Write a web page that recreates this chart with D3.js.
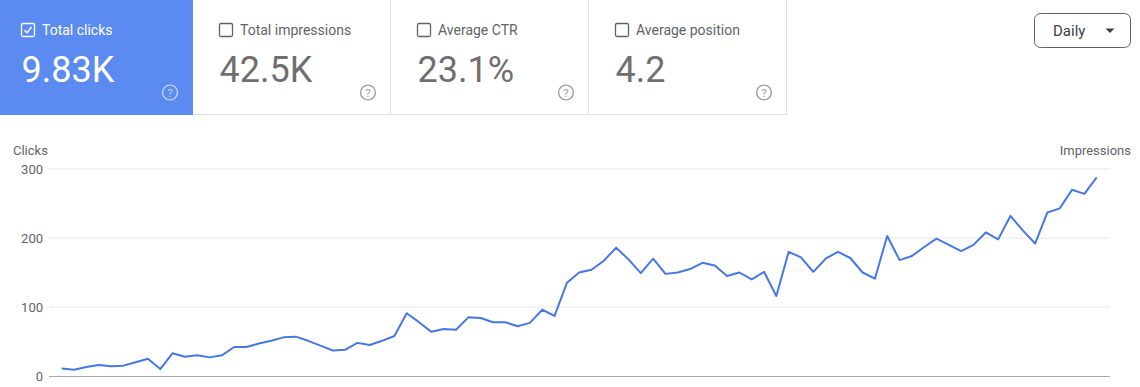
<!DOCTYPE html>
<html>
<head>
<meta charset="utf-8">
<script src="https://cdn.jsdelivr.net/npm/d3@7"></script>
<style>
  html, body { margin: 0; padding: 0; background: #fff; }
  svg { display: block; font-family: Roboto, "Noto Sans", sans-serif; }
</style>
</head>
<body>
<svg id="chart" width="1140" height="387"></svg>
<script>
// ---- data ----
const metricLabels = ["Total clicks", "Total impressions", "Average CTR", "Average position"];
const metricValues = ["9.83K", "42.5K", "23.1%", "4.2"];
const metricSelected = [true, false, false, false];
const clicks = [
  11, 9, 13, 16, 14, 15, 20, 25, 10, 33,
  28, 30, 27, 30, 42, 42, 47, 51, 56, 57,
  51, 44, 37, 38, 48, 45, 51, 58, 91, 78,
  64, 68, 67, 85, 84, 78, 78, 72, 77, 96,
  87, 135, 150, 154, 167, 186, 169, 149, 170, 148,
  150, 155, 164, 160, 145, 150, 140, 151, 116, 180,
  172, 151, 170, 180, 171, 150, 141, 203, 168, 174,
  187, 199, 190, 181, 190, 208, 198, 232, 211, 192,
  237, 243, 270, 264, 288
];
const yTicks = [0, 100, 200, 300];
const leftAxisTitle = "Clicks";
const rightAxisTitle = "Impressions";
const periodLabel = "Daily";

// ---- drawing ----
const svg = d3.select("#chart");
const blue = "#5b8af0";
const lineBlue = "#4677e6";

// metric cards
const cardW = 198, cardH = 115, cardX0 = -5;
const cards = svg.append("g");
metricLabels.forEach((lab, i) => {
  const x0 = cardX0 + i * cardW;
  const sel = metricSelected[i];
  const g = cards.append("g");
  if (sel) {
    g.append("rect").attr("x", 0).attr("y", 0).attr("width", x0 + cardW).attr("height", cardH).attr("fill", blue);
  } else {
    g.append("line").attr("x1", x0).attr("x2", x0 + cardW).attr("y1", cardH - 0.5).attr("y2", cardH - 0.5)
      .attr("stroke", "#e0e0e0").attr("stroke-width", 1);
    g.append("line").attr("x1", x0 + cardW - 0.5).attr("x2", x0 + cardW - 0.5).attr("y1", 0).attr("y2", cardH)
      .attr("stroke", "#e0e0e0").attr("stroke-width", 1);
  }
  const fg = sel ? "#ffffff" : "#5f6368";
  // checkbox
  g.append("rect").attr("x", x0 + 26.5).attr("y", 23.5).attr("width", 13).attr("height", 13).attr("rx", 1.5)
    .attr("fill", "none").attr("stroke", sel ? "#fff" : "#5f6368").attr("stroke-width", 1.3);
  if (sel) {
    g.append("path").attr("d", `M${x0 + 29.5},${30.2} L${x0 + 32},${32.8} L${x0 + 36.6},${27}`)
      .attr("fill", "none").attr("stroke", "#fff").attr("stroke-width", 1.4);
  }
  g.append("text").attr("x", x0 + 47).attr("y", 34.5).attr("font-size", 14).attr("fill", fg).text(lab);
  g.append("text").attr("x", x0 + 26.5).attr("y", 81.5).attr("font-size", 36)
    .attr("fill", sel ? "#fff" : "#6f6f6f").text(metricValues[i]);
  // help icon
  const hc = sel ? "rgba(255,255,255,0.6)" : "#9e9e9e";
  g.append("circle").attr("cx", x0 + 175).attr("cy", 92.5).attr("r", 7.4).attr("fill", "none")
    .attr("stroke", hc).attr("stroke-width", 1.4);
  g.append("text").attr("x", x0 + 175).attr("y", 96.6).attr("text-anchor", "middle").attr("font-size", 11.5)
    .attr("fill", hc).text("?");
});

// dropdown
const dd = svg.append("g");
dd.append("rect").attr("x", 1034.5).attr("y", 13.5).attr("width", 96).attr("height", 34).attr("rx", 6)
  .attr("fill", "#fff").attr("stroke", "#5f6368").attr("stroke-width", 1);
dd.append("text").attr("x", 1053).attr("y", 36).attr("font-size", 15).attr("fill", "#3c4043").text(periodLabel);
dd.append("path").attr("d", "M1105.5,28.5 L1114.5,28.5 L1110,33 Z").attr("fill", "#3c4043");

// chart
const x = d3.scaleLinear().domain([0, clicks.length - 1]).range([61.7, 1096.7]);
const y = d3.scaleLinear().domain([0, 300]).range([376, 169]);
const plotL = 49, plotR = 1110;

const grid = svg.append("g");
grid.selectAll("line.g").data(yTicks.filter(d => d > 0)).join("line")
  .attr("x1", plotL).attr("x2", plotR).attr("y1", d => y(d)).attr("y2", d => y(d))
  .attr("stroke", "#efefef").attr("stroke-width", 1.3);
grid.append("line").attr("x1", plotL).attr("x2", plotR).attr("y1", y(0) + 0.5).attr("y2", y(0) + 0.5)
  .attr("stroke", "#a8a8a8").attr("stroke-width", 1);

const yAxis = d3.axisLeft(y).tickValues(yTicks).tickSize(0).tickPadding(0);
const ya = svg.append("g").attr("transform", "translate(43,0)").call(yAxis);
ya.select(".domain").remove();
ya.selectAll("text").attr("font-size", 13).attr("fill", "#5f6368").attr("font-family", "Roboto, sans-serif");

svg.append("text").attr("x", 13).attr("y", 155).attr("font-size", 13).attr("fill", "#5f6368").text(leftAxisTitle);
svg.append("text").attr("x", 1131).attr("y", 155).attr("text-anchor", "end").attr("font-size", 13)
  .attr("fill", "#5f6368").text(rightAxisTitle);

const line = d3.line().x((d, i) => x(i)).y(d => y(d));
svg.append("path").datum(clicks).attr("d", line).attr("fill", "none")
  .attr("stroke", lineBlue).attr("stroke-width", 2).attr("stroke-linejoin", "round");
</script>
</body>
</html>
